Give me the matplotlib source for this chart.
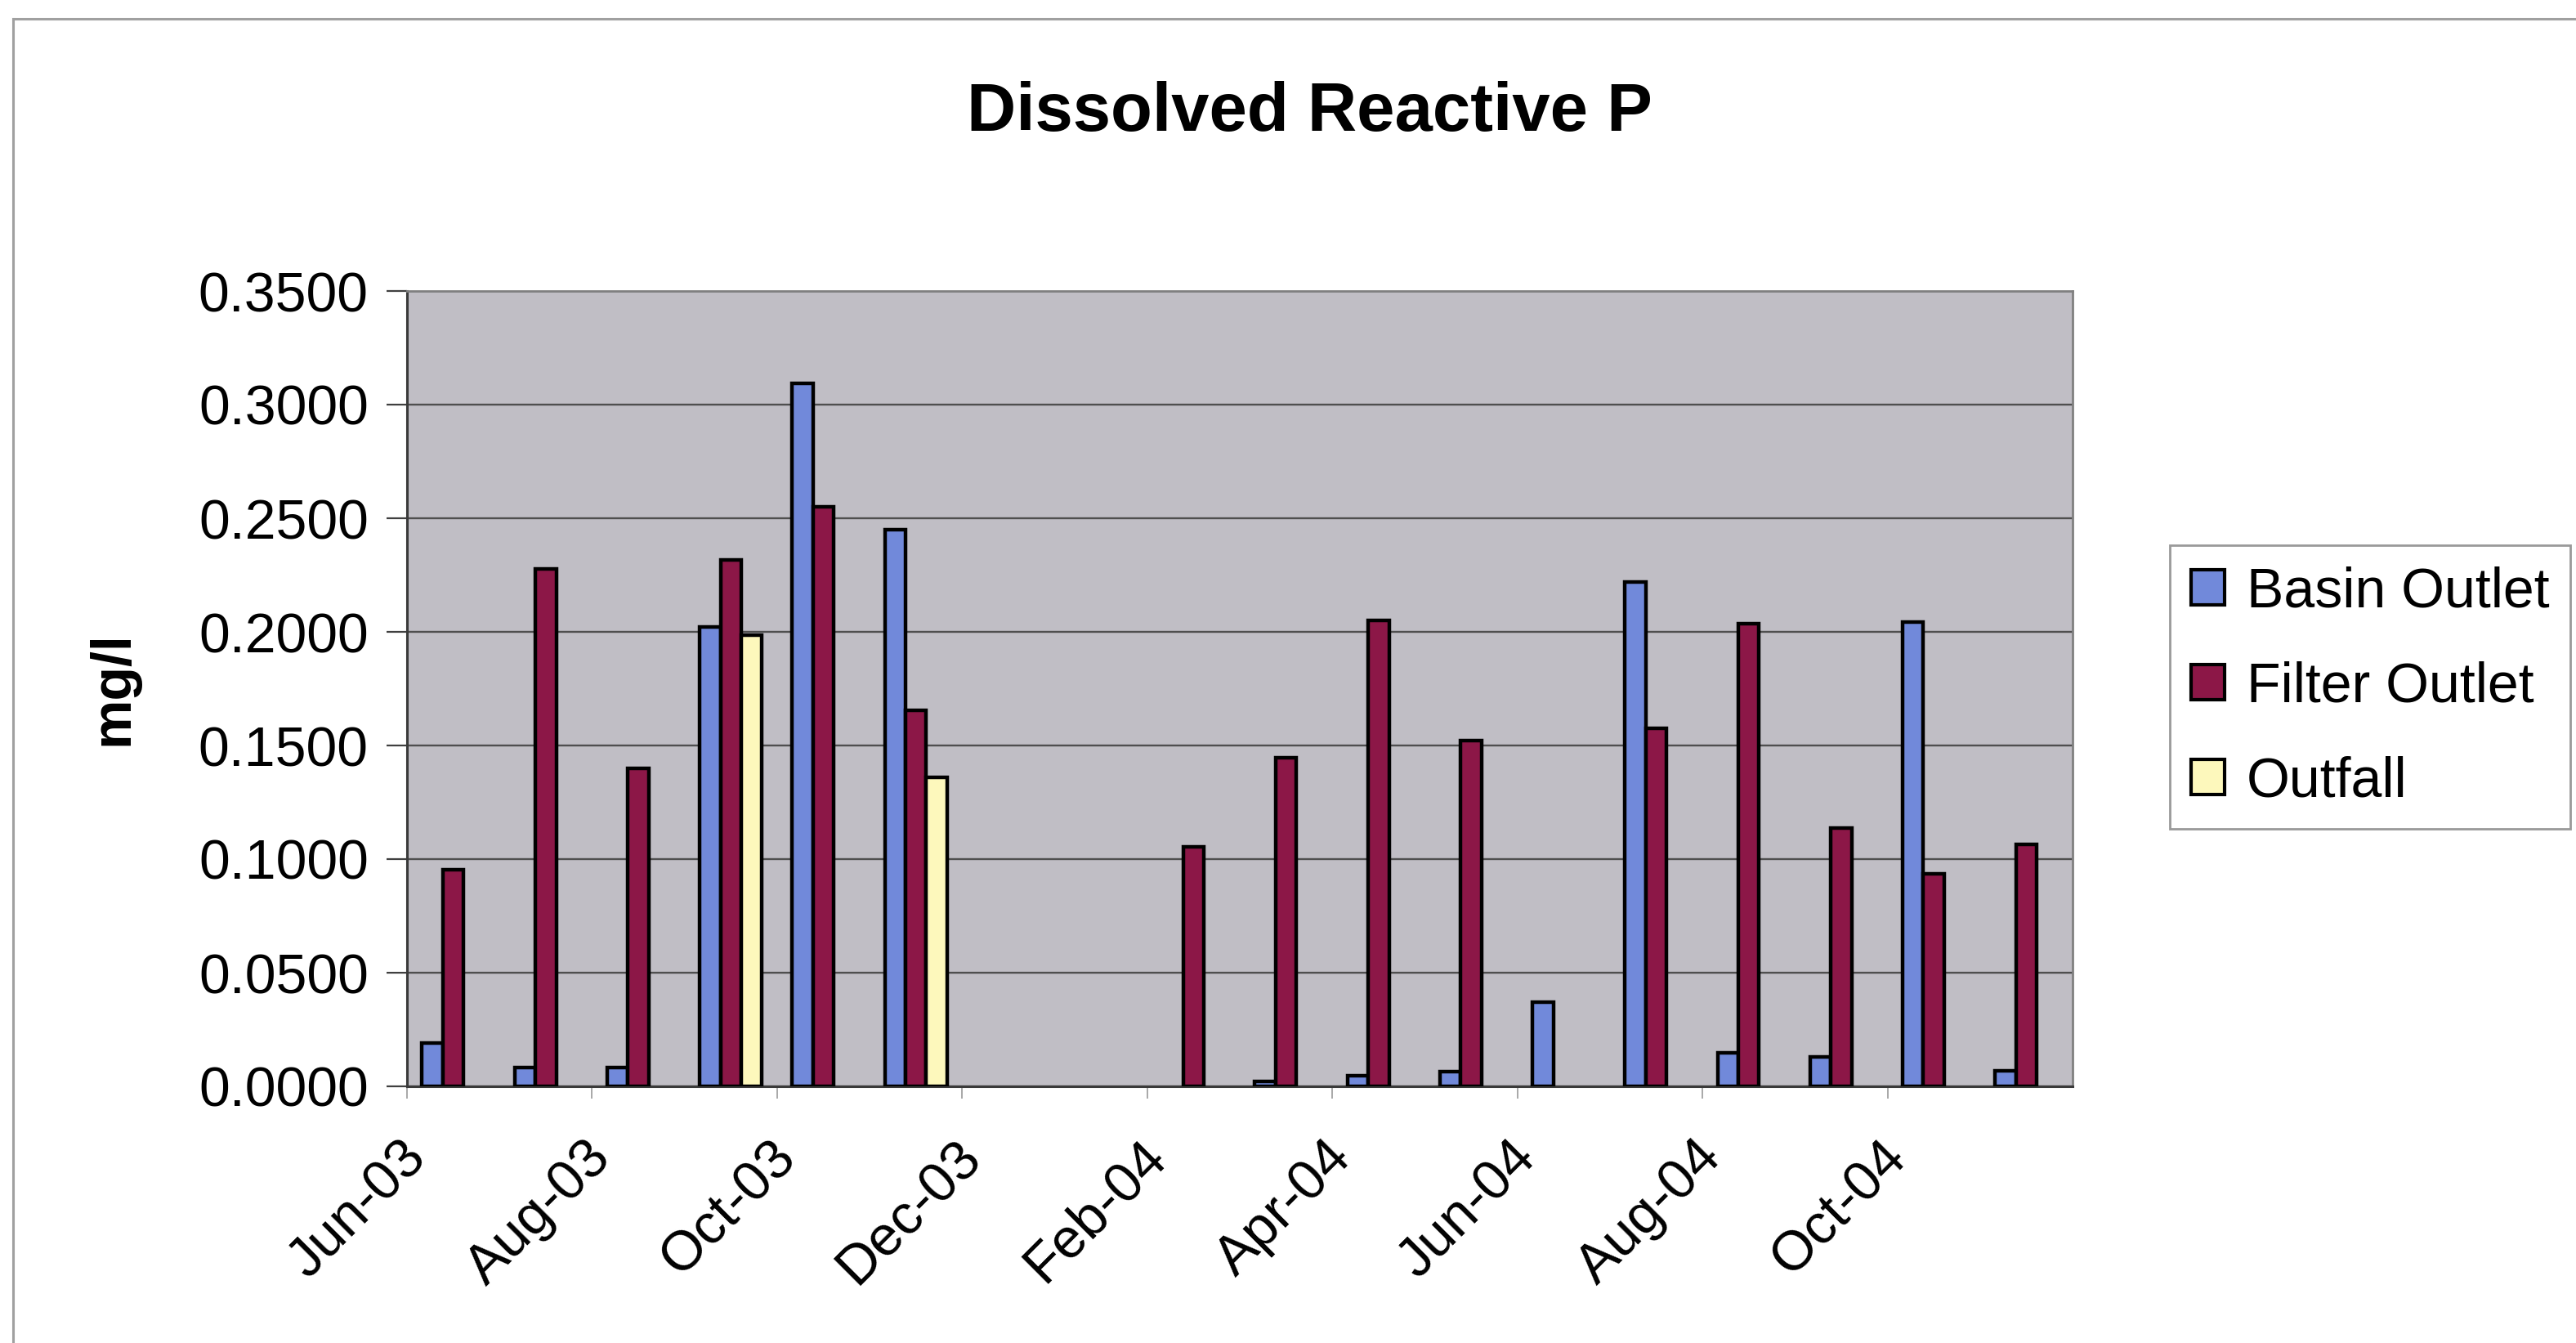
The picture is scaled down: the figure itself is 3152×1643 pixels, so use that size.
import numpy as np
import matplotlib
matplotlib.use("Agg")
import matplotlib.pyplot as plt
import matplotlib.transforms as mtransforms
from matplotlib.lines import Line2D

plt.rcParams['font.family'] = ['Liberation Sans', 'DejaVu Sans']

# monthly sampling, Jun-03 .. Nov-04
months = ['Jun-03', 'Jul-03', 'Aug-03', 'Sep-03', 'Oct-03', 'Nov-03',
          'Dec-03', 'Jan-04', 'Feb-04', 'Mar-04', 'Apr-04', 'May-04',
          'Jun-04', 'Jul-04', 'Aug-04', 'Sep-04', 'Oct-04', 'Nov-04']
nan = np.nan
basin = [0.0190, 0.0082, 0.0082, 0.2021, 0.3095, 0.2451, nan, nan, nan,
         0.0023, 0.0047, 0.0063, 0.0370, 0.2220, 0.0146, 0.0130, 0.2042, 0.0070]
filt = [0.0953, 0.2276, 0.1398, 0.2318, 0.2552, 0.1655, nan, nan, 0.1054,
        0.1445, 0.2049, 0.1522, nan, 0.1575, 0.2037, 0.1138, 0.0935, 0.1063]
outfall = [nan, nan, nan, 0.1985, nan, 0.1358, nan, nan, nan,
           nan, nan, nan, nan, nan, nan, nan, nan, nan]

series = [('Basin Outlet', basin, '#7189da'),
          ('Filter Outlet', filt, '#8c1747'),
          ('Outfall', outfall, '#fdf8bc')]

W, H = 3152, 1643
fig = plt.figure(figsize=(W / 100, H / 100), dpi=100)
ax = fig.add_axes([498 / W, 1 - 1329 / H, (2536 - 498) / W, (1329 - 356) / H])
ax.set_facecolor('#c0bec5')

pos = np.arange(len(months)) + 0.5
w = 0.225
handles = []
for k, (name, vals, col) in enumerate(series):
    vals = np.array(vals, dtype=float)
    ok = ~np.isnan(vals)
    ax.bar(pos[ok] + (k - 1) * w, vals[ok], w, color=col, edgecolor='black',
           linewidth=3.2, zorder=3)
    handles.append(plt.Rectangle((0, 0), 1, 1, facecolor=col, edgecolor='black', linewidth=3.0))

ax.set_xlim(0, len(months))
ax.set_ylim(0, 0.35)
ax.set_yticks(np.arange(0, 0.351, 0.05))
ax.set_yticklabels(['%.4f' % v for v in np.arange(0, 0.351, 0.05)], fontsize=49)
ax.grid(axis='y', color='#4f4f4f', linewidth=1.7, zorder=1)
ax.set_axisbelow(True)

ax.set_xticks(np.arange(0, len(months), 2))
ax.set_xticklabels(months[::2], fontsize=49, rotation=45, ha='right', va='top')

ax.tick_params(axis='y', length=18, width=1.6, color='#404040', pad=16)
ax.tick_params(axis='x', length=11, width=1.2, color='#999999', pad=28)

# nudge the slanted month labels right of their ticks (after tick_params,
# which resets the label transforms)
shift = mtransforms.ScaledTranslation(0.36, 0, fig.dpi_scale_trans)
for lab in ax.get_xticklabels():
    lab.set_transform(lab.get_transform() + shift)

for side in ['top', 'right']:
    ax.spines[side].set_color('#808080')
    ax.spines[side].set_linewidth(2)
for side in ['left', 'bottom']:
    ax.spines[side].set_color('#3a3a3a')
    ax.spines[side].set_linewidth(2.2)

ax.set_ylabel('mg/l', fontsize=49, fontweight='bold')
ax.yaxis.set_label_coords(-0.161, 0.5)

fig.text(1602 / W, 1 - 160 / H, 'Dissolved Reactive P', fontsize=60,
         fontweight='bold', ha='center', va='baseline')

leg = ax.legend(handles, [s[0] for s in series], loc='upper left',
                bbox_to_anchor=(2655 / W, 1 - 667 / H), bbox_transform=fig.transFigure,
                fontsize=49, frameon=True, fancybox=False, borderaxespad=0,
                handlelength=0.6, handleheight=0.6, handletextpad=0.4,
                labelspacing=0.76, borderpad=0.38)
leg.get_frame().set_edgecolor('#808080')
leg.get_frame().set_linewidth(2)

# chart area border
fig.add_artist(Line2D([16 / W, 1], [1 - 23 / H, 1 - 23 / H], color='#a0a0a0',
                      linewidth=2.2, transform=fig.transFigure))
fig.add_artist(Line2D([16 / W, 16 / W], [0, 1 - 23 / H], color='#a0a0a0',
                      linewidth=2.2, transform=fig.transFigure))

fig.savefig('out.png', dpi=100, facecolor='white')
